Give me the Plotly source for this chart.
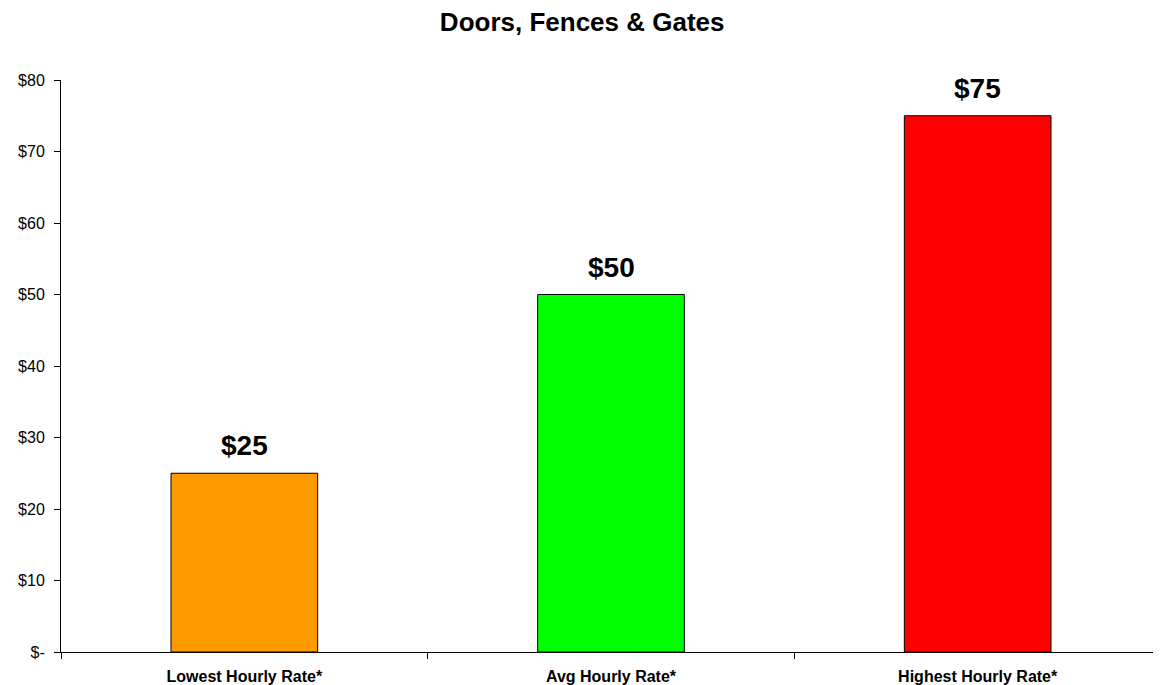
import plotly.graph_objects as go

categories = ["Lowest Hourly Rate*", "Avg Hourly Rate*", "Highest Hourly Rate*"]
rates = [25, 50, 75]
bar_colors = ["#FF9900", "#00FF00", "#FF0000"]
y_ticks = [0, 10, 20, 30, 40, 50, 60, 70, 80]
y_tick_labels = ["$-", "$10", "$20", "$30", "$40", "$50", "$60", "$70", "$80"]

fig = go.Figure(go.Bar(
    x=categories,
    y=rates,
    width=0.4,
    marker=dict(color=bar_colors, line=dict(color="black", width=1)),
    hoverinfo="skip",
))

for cat, val in zip(categories, rates):
    fig.add_annotation(
        x=cat, y=val, text=f"<b>${val}</b>", showarrow=False,
        yanchor="bottom", yshift=10,
        font=dict(family="Liberation Sans, Arial", size=28, color="black"),
    )

# page body has an 8px margin, so the figure is a bit smaller than the window
fig.update_layout(
    width=1153, height=677,
    margin=dict(l=53, r=0, t=72, b=33, autoexpand=False),
    paper_bgcolor="white", plot_bgcolor="white",
    font=dict(family="Liberation Sans, Arial", color="black"),
    title=dict(text="<b>Doors, Fences & Gates</b>", x=0.498, xanchor="center",
               y=0.98, yanchor="middle", font=dict(size=26)),
    showlegend=False,
)
fig.update_xaxes(
    showline=True, linecolor="black", linewidth=1,
    ticks="outside", tickson="boundaries", ticklen=6, tickcolor="black",
    tickfont=dict(size=16), tickprefix="<b>", ticksuffix="</b>",
    ticklabelstandoff=10,
    showgrid=False, range=[-0.5, 2.5], automargin=False,
)
fig.update_yaxes(
    range=[0, 80], tickvals=y_ticks, ticktext=y_tick_labels,
    showline=True, linecolor="black", linewidth=1,
    ticks="outside", ticklen=6, tickcolor="black",
    tickfont=dict(size=16), ticklabelstandoff=6,
    showgrid=False, zeroline=False, automargin=False,
)

fig.write_html("out.html")
